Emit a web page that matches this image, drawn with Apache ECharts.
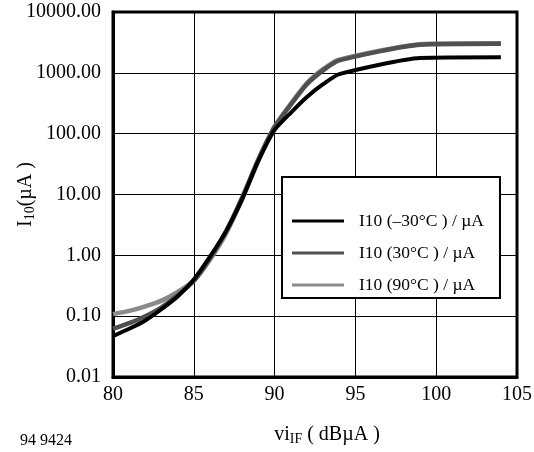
<!DOCTYPE html>
<html>
<head>
<meta charset="utf-8">
<script src="https://cdn.jsdelivr.net/npm/echarts@6/dist/echarts.min.js"></script>
<style>
html,body{margin:0;padding:0;background:#fff;}
#c{width:534px;height:452px;}
</style>
</head>
<body>
<div id="c"></div>
<script>
// Data
const xValues = [80, 81, 82, 83, 84, 85, 86, 87, 88, 89, 90, 91, 92, 93, 94, 99, 104];
const iMinus30 = [0.047, 0.062, 0.085, 0.13, 0.21, 0.40, 0.95, 2.5, 8.5, 36, 115, 220, 400, 650, 950, 1750, 1800];
const i30 = [0.062, 0.077, 0.10, 0.14, 0.22, 0.38, 0.9, 2.5, 9, 38, 130, 300, 650, 1100, 1600, 2900, 3000];
const i90 = [0.108, 0.122, 0.145, 0.18, 0.25, 0.38, 0.85, 2.3, 8.5, 36, 130, 310, 680, 1150, 1650, 2950, 3050];
const seriesNames = ['I10 (\u201330\u00B0C ) / \u00B5A', 'I10 (30\u00B0C ) / \u00B5A', 'I10 (90\u00B0C ) / \u00B5A'];
const xTicks = [80, 85, 90, 95, 100, 105];
const yTicks = [0.01, 0.1, 1, 10, 100, 1000, 10000];
const noteText = '94 9424';

const FONT = '"Liberation Serif", "Times New Roman", serif';
const chart = echarts.init(document.getElementById('c'));
function pairs(ys){ return xValues.map((x,i)=>[x, ys[i]]); }

const option = {
  backgroundColor: '#fff',
  animation: false,
  grid: {left: 113, right: 17, top: 12, bottom: 75, show: true, borderColor: '#000', borderWidth: 3,
         backgroundColor: 'transparent', containLabel: false, outerBoundsMode: 'none'},
  xAxis: {
    type: 'value', min: xTicks[0], max: xTicks[xTicks.length-1], interval: 5,
    axisLine: {show: true, lineStyle: {color: '#000', width: 3}},
    axisTick: {show: false},
    splitLine: {show: true, lineStyle: {color: '#000', width: 1}},
    axisLabel: {color: '#000', fontFamily: FONT, fontSize: 20, margin: 8},
    name: '{a|vi}{s|IF}{a| ( dB\u00B5A )}',
    nameLocation: 'middle', nameGap: 46, nameMoveOverlap: false,
    nameTextStyle: {
      padding: [0, 0, 0, 24],
      rich: {
        a: {fontFamily: FONT, fontSize: 20, color: '#000'},
        s: {fontFamily: FONT, fontSize: 14, color: '#000', padding: [9, 0, 0, 0]}
      }
    }
  },
  yAxis: {
    type: 'log', logBase: 10, min: yTicks[0], max: yTicks[yTicks.length-1],
    axisLine: {show: true, lineStyle: {color: '#000', width: 3}},
    axisTick: {show: false},
    splitLine: {show: true, lineStyle: {color: '#000', width: 1}},
    minorSplitLine: {show: false},
    axisLabel: {color: '#000', fontFamily: FONT, fontSize: 20, margin: 12,
      formatter: v => Number(v).toFixed(2)},
    name: '{a|I}{s|10}{a|(\u00B5A )}',
    nameLocation: 'middle', nameGap: 76, nameRotate: 90, nameMoveOverlap: false,
    nameTextStyle: {
      rich: {
        a: {fontFamily: FONT, fontSize: 20, color: '#000'},
        s: {fontFamily: FONT, fontSize: 14, color: '#000', padding: [9, 0, 0, 0]}
      }
    }
  },
  legend: {
    data: seriesNames,
    orient: 'vertical',
    left: 282, top: 177,
    padding: [34, 16, 3, 10],
    itemGap: 12,
    itemWidth: 52, itemHeight: 14,
    borderColor: '#000', borderWidth: 2,
    backgroundColor: '#fff',
    icon: 'path://M0,6h52v3h-52z',
    textStyle: {fontFamily: FONT, fontSize: 17.5, color: '#000', lineHeight: 20, padding: [0,0,0,10]}
  },
  graphic: [{
    type: 'text', left: 20, top: 433,
    style: {text: noteText, fontFamily: FONT, fontSize: 16, fill: '#000'}
  }],
  series: [
    {name: seriesNames[2], type: 'line', data: pairs(i90), showSymbol: false, smooth: 0.2,
     lineStyle: {color: '#8a8a8a', width: 4.5}, itemStyle: {color: '#8a8a8a'}},
    {name: seriesNames[1], type: 'line', data: pairs(i30), showSymbol: false, smooth: 0.2,
     lineStyle: {color: '#505050', width: 4.5}, itemStyle: {color: '#505050'}},
    {name: seriesNames[0], type: 'line', data: pairs(iMinus30), showSymbol: false, smooth: 0.2,
     lineStyle: {color: '#000', width: 4}, itemStyle: {color: '#000'}}
  ]
};
chart.setOption(option);
</script>
</body>
</html>
